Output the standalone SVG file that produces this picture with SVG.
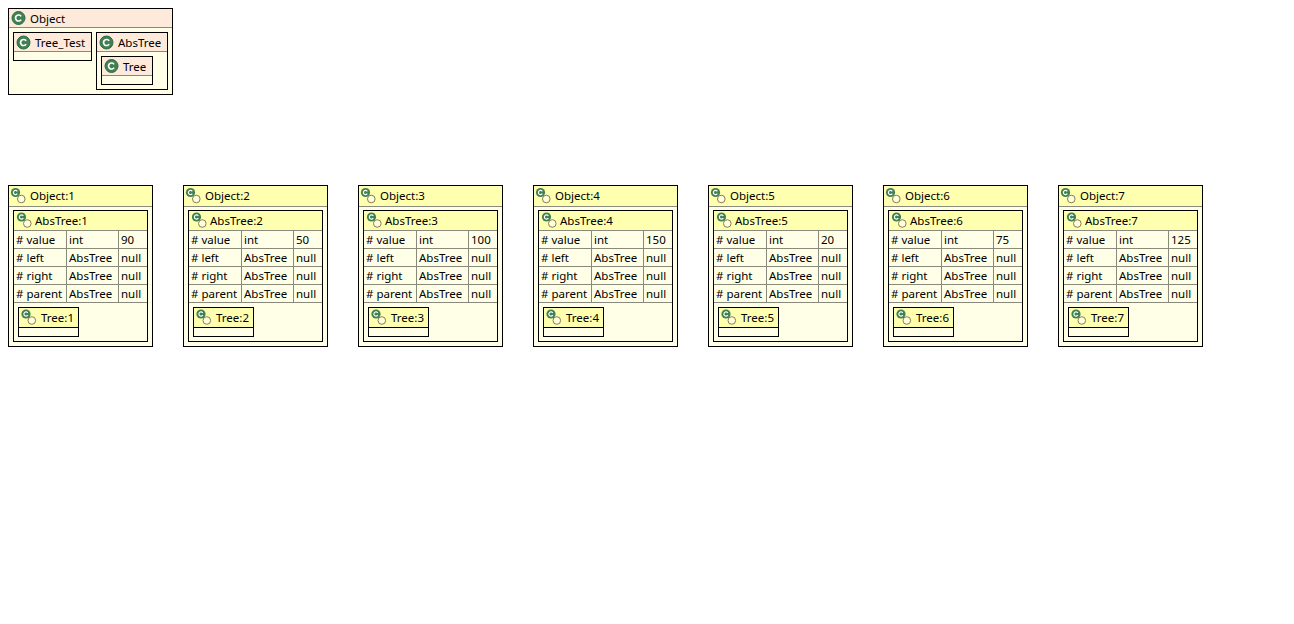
<svg xmlns="http://www.w3.org/2000/svg" width="1294" height="624" viewBox="0 0 1294 624">
<style>
text{font-family:"Noto Sans","Open Sans","DejaVu Sans",sans-serif;font-size:11.5px;fill:#000}
.b{fill:#ffffe8;stroke:#000;stroke-width:1}
.hc{fill:#fdeadb}
.hi{fill:#ffffb0}
.s{stroke:#8a8a7c;stroke-width:1;fill:none}
</style>
<defs>
<g id="ci"><circle r="6.5" fill="#3f8153" stroke="#2c6a42" stroke-width="1"/><path d="M2.600-1.600A3 3 0 1 0 2.600 1.600" fill="none" stroke="#fff" stroke-width="1.700"/></g>
<g id="oi"><circle cx="5.800" cy="6.500" r="3.800" fill="#ffffe0" stroke="#8a7a50" stroke-width="1"/><circle r="4.600" fill="#3f8153"/><path d="M1.800-1.100A2.100 2.100 0 1 0 1.800 1.100" fill="none" stroke="#fff" stroke-width="1.200"/></g>
<g id="inst-frame">
<rect class="b" x="8.500" y="185.500" width="144" height="161"/>
<rect class="hi" x="9" y="186" width="143" height="20"/>
<path class="s" d="M9 206.500H152"/>
<rect class="b" x="13.500" y="210.500" width="134" height="131"/>
<rect class="hi" x="14" y="211" width="133" height="19"/>
<path class="s" d="M14 230.500H147M14 248.500H147M14 266.500H147M14 284.500H147M14 302.500H147M66.500 231V302M118.500 231V302"/>
<rect class="b" x="18.500" y="307.500" width="60" height="29"/>
<rect class="hi" x="19" y="308" width="59" height="19"/>
<path d="M19 327.500H78" stroke="#000" fill="none"/>
<use href="#oi" x="15.500" y="192.500"/>
<use href="#oi" x="21.500" y="217"/>
<use href="#oi" x="26" y="314"/>
</g>
<g id="fields">
<text x="16" y="244">#&#160;value</text><text x="69" y="244">int</text>
<text x="16" y="262">#&#160;left</text><text x="69" y="262">AbsTree</text><text x="121" y="262">null</text>
<text x="16" y="280">#&#160;right</text><text x="69" y="280">AbsTree</text><text x="121" y="280">null</text>
<text x="16" y="298">#&#160;parent</text><text x="69" y="298">AbsTree</text><text x="121" y="298">null</text>
</g>
</defs>
<rect width="1294" height="624" fill="#fff"/>
<g id="connectors"></g>
<g id="class-Object">
<rect class="b" x="8.500" y="8.500" width="164" height="86"/>
<rect class="hc" x="9" y="9" width="163" height="18"/>
<path class="s" d="M9 27.500H172"/>
<use href="#ci" x="18.500" y="18"/>
<text x="30" y="23">Object</text>
</g>
<g id="class-Tree_Test">
<rect class="b" x="13.500" y="32.500" width="78" height="28"/>
<rect class="hc" x="14" y="33" width="77" height="18"/>
<path class="s" d="M14 51.500H91"/>
<use href="#ci" x="23.500" y="42.500"/>
<text x="35" y="47">Tree_Test</text>
</g>
<g id="class-AbsTree">
<rect class="b" x="96.500" y="32.500" width="71" height="57"/>
<rect class="hc" x="97" y="33" width="70" height="18"/>
<path class="s" d="M97 51.500H167"/>
<use href="#ci" x="106.500" y="42.500"/>
<text x="118" y="47">AbsTree</text>
</g>
<g id="class-Tree">
<rect class="b" x="101.500" y="56.500" width="51" height="28"/>
<rect class="hc" x="102" y="57" width="50" height="18"/>
<path class="s" d="M102 75.500H152"/>
<use href="#ci" x="111.500" y="66"/>
<text x="123" y="71">Tree</text>
</g>
<g id="object-1"><use href="#inst-frame"/><use href="#fields"/><text x="30" y="200">Object:1</text><text x="35" y="225">AbsTree:1</text><text x="121" y="244">90</text><text x="41" y="322">Tree:1</text></g>
<g id="object-2" transform="translate(175 0)"><use href="#inst-frame"/><use href="#fields"/><text x="30" y="200">Object:2</text><text x="35" y="225">AbsTree:2</text><text x="121" y="244">50</text><text x="41" y="322">Tree:2</text></g>
<g id="object-3" transform="translate(350 0)"><use href="#inst-frame"/><use href="#fields"/><text x="30" y="200">Object:3</text><text x="35" y="225">AbsTree:3</text><text x="121" y="244">100</text><text x="41" y="322">Tree:3</text></g>
<g id="object-4" transform="translate(525 0)"><use href="#inst-frame"/><use href="#fields"/><text x="30" y="200">Object:4</text><text x="35" y="225">AbsTree:4</text><text x="121" y="244">150</text><text x="41" y="322">Tree:4</text></g>
<g id="object-5" transform="translate(700 0)"><use href="#inst-frame"/><use href="#fields"/><text x="30" y="200">Object:5</text><text x="35" y="225">AbsTree:5</text><text x="121" y="244">20</text><text x="41" y="322">Tree:5</text></g>
<g id="object-6" transform="translate(875 0)"><use href="#inst-frame"/><use href="#fields"/><text x="30" y="200">Object:6</text><text x="35" y="225">AbsTree:6</text><text x="121" y="244">75</text><text x="41" y="322">Tree:6</text></g>
<g id="object-7" transform="translate(1050 0)"><use href="#inst-frame"/><use href="#fields"/><text x="30" y="200">Object:7</text><text x="35" y="225">AbsTree:7</text><text x="121" y="244">125</text><text x="41" y="322">Tree:7</text></g>
</svg>
